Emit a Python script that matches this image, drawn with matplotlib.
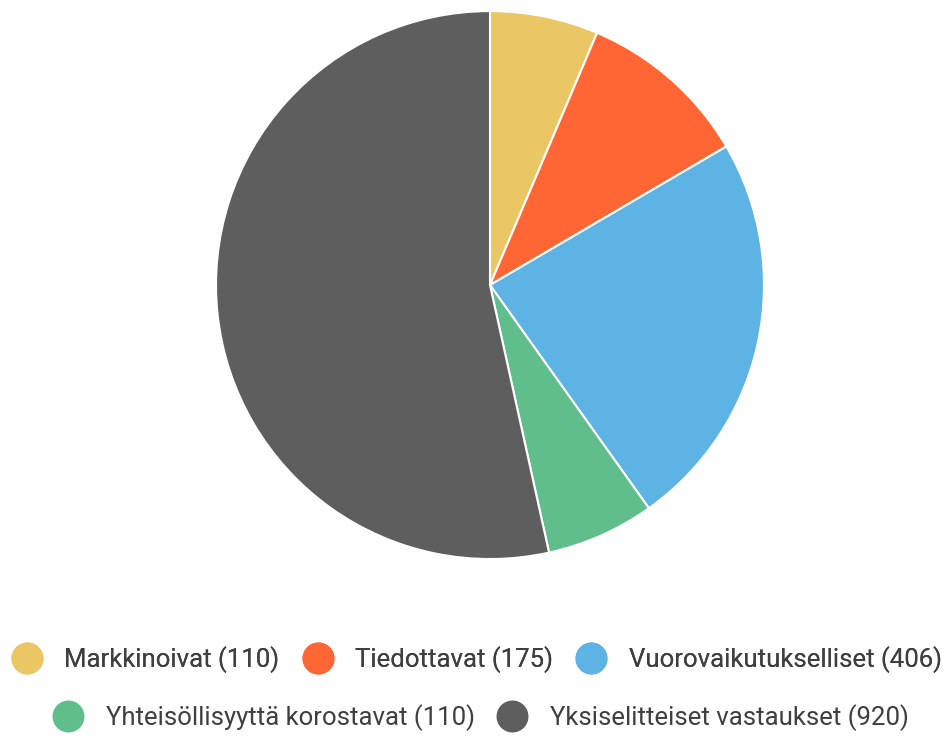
import matplotlib.pyplot as plt
from matplotlib.lines import Line2D

plt.rcParams["font.family"] = ["Roboto", "DejaVu Sans"]

categories = [
    "Markkinoivat",
    "Tiedottavat",
    "Vuorovaikutukselliset",
    "Yhteisöllisyyttä korostavat",
    "Yksiselitteiset vastaukset",
]
counts = [110, 175, 406, 110, 920]
colors = ["#EBC665", "#FF6634", "#5DB4E4", "#5FBE8B", "#5E5E5E"]

fig = plt.figure(figsize=(9.52, 7.38), dpi=100)
ax = fig.add_axes([0.2269, 0.2425, 0.5756, 0.7425])
ax.pie(
    counts,
    colors=colors,
    startangle=90,
    counterclock=False,
    radius=1.0,
    wedgeprops=dict(edgecolor="white", linewidth=1.5),
)
ax.set_xlim(-1.0, 1.0)
ax.set_ylim(-1.0, 1.0)
ax.set_aspect("equal")
ax.axis("off")

labels = [f"{c} ({n})" for c, n in zip(categories, counts)]
handles = [
    Line2D([0], [0], marker="o", linestyle="none", markersize=22,
           markerfacecolor=col, markeredgecolor=col)
    for col in colors
]

legend_kw = dict(
    frameon=False,
    fontsize=18.5,
    handlelength=1.15,
    handletextpad=0.9,
    columnspacing=0.9,
    labelcolor="#3f3f3f",
    borderpad=0,
)

# two centred legend rows: 3 items, then 2
leg1 = fig.legend(handles[:3], labels[:3], ncol=3, loc="center",
                  bbox_to_anchor=(477 / 952, 1 - 660 / 738), **legend_kw)
fig.add_artist(leg1)
fig.legend(handles[3:], labels[3:], ncol=2, loc="center",
           bbox_to_anchor=(481 / 952, 1 - 718 / 738), **legend_kw)

fig.savefig("out.png", dpi=100, facecolor="white")
